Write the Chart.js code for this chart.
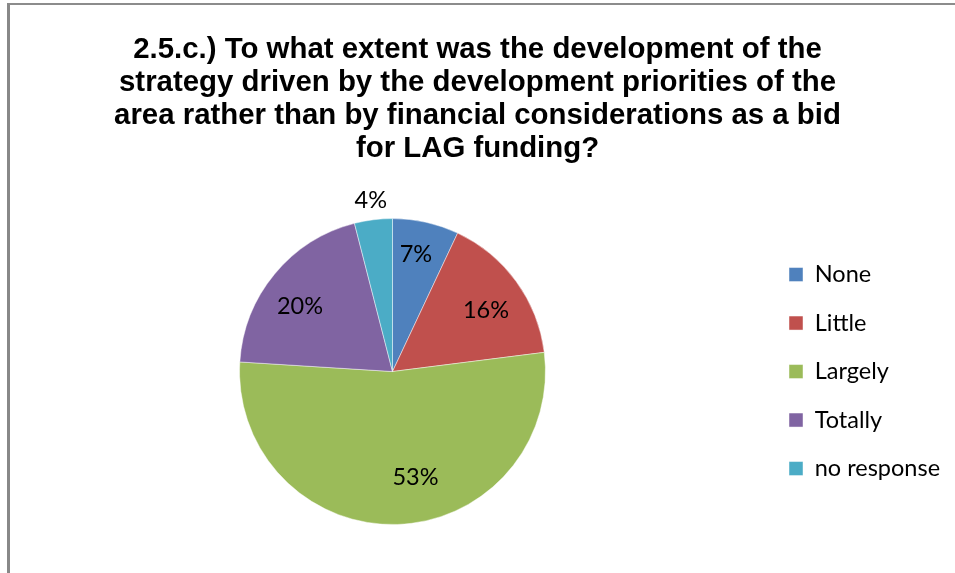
<!DOCTYPE html>
<html>
<head>
<meta charset="utf-8">
<script src="https://cdn.jsdelivr.net/npm/chart.js@4/dist/chart.umd.min.js"></script>
<style>
  html, body { margin: 0; padding: 0; background: #fff; }
  #wrap { position: relative; width: 955px; height: 573px; overflow: hidden; }
  #frame {
    position: absolute; left: 7px; top: 3px; width: 1000px; height: 700px;
    border-left: 3px solid #888; border-top: 2px solid #8c8c8c;
    box-sizing: border-box;
  }
  #c { position: absolute; left: 0; top: 0; }
</style>
</head>
<body>
<div id="wrap">
  <div id="frame"></div>
  <canvas id="c" width="955" height="573"></canvas>
</div>
<script>
// Survey answers (percent of respondents)
const categories = ['None', 'Little', 'Largely', 'Totally', 'no response'];
const shares = [7, 16, 53, 20, 4];
const titleLines = [
  '2.5.c.) To what extent was the development of the',
  'strategy driven by the development priorities of the',
  'area rather than by financial considerations as a bid',
  'for LAG funding?'
];

// Office-style palette, one colour per answer
const sliceColors = ['#4F81BD', '#C0504D', '#9BBB59', '#8064A2', '#4BACC6'];
// Label placement per slice: distance from centre (fraction of radius)
// and a small turn away from the slice bisector (degrees, clockwise)
const labelRadius = [0.783, 0.731, 0.706, 0.741, 1.13];
const labelTurn = [-1.3, 2.7, -10.5, -4.3, 0];

const LEGEND_WIDTH = 170;      // width reserved in the layout
const LEGEND_DRAW_WIDTH = 190; // room the labels get when drawn
const LABEL_FONT = '23.5px Lato, "Open Sans", sans-serif';

// Fixed-width legend column so the pie stays left of centre,
// widened again after layout so long labels are not cut off
const legendWidthPlugin = {
  id: 'legendWidth',
  beforeLayout(chart) {
    const lg = chart.legend;
    if (lg && !lg.__fixedWidth) {
      const fit = lg.fit;
      lg.fit = function () {
        fit.call(this);
        this.width = LEGEND_WIDTH;
      };
      lg.__fixedWidth = true;
    }
  },
  afterLayout(chart) {
    const lg = chart.legend;
    if (lg) {
      lg.width = LEGEND_DRAW_WIDTH;
      lg.right = lg.left + LEGEND_DRAW_WIDTH;
    }
  }
};

// Percentage labels placed around each slice's bisector
const sliceLabelPlugin = {
  id: 'sliceLabels',
  afterDatasetsDraw(chart) {
    const ctx = chart.ctx;
    const meta = chart.getDatasetMeta(0);
    const values = chart.data.datasets[0].data;
    ctx.save();
    ctx.font = LABEL_FONT;
    ctx.fillStyle = '#000';
    ctx.textAlign = 'center';
    ctx.textBaseline = 'middle';
    meta.data.forEach((arc, i) => {
      const p = arc.getProps(['x', 'y', 'startAngle', 'endAngle', 'outerRadius'], true);
      const mid = (p.startAngle + p.endAngle) / 2 + labelTurn[i] * Math.PI / 180;
      const r = p.outerRadius * labelRadius[i];
      ctx.fillText(values[i] + '%', p.x + Math.cos(mid) * r, p.y + Math.sin(mid) * r);
    });
    ctx.restore();
  }
};

new Chart(document.getElementById('c'), {
  type: 'pie',
  data: {
    labels: categories,
    datasets: [{
      data: shares,
      backgroundColor: sliceColors,
      borderColor: 'rgba(255,255,255,0.45)',
      borderWidth: 1
    }]
  },
  options: {
    responsive: false,
    animation: false,
    devicePixelRatio: 1,
    layout: { padding: { left: 21, right: 21, top: 0, bottom: 48 } },
    plugins: {
      title: {
        display: true,
        text: titleLines,
        color: '#000',
        font: { family: '"Liberation Sans", Arial, sans-serif', size: 29.4, weight: 'bold', lineHeight: 1.123 },
        padding: { top: 33, bottom: 53 }
      },
      legend: {
        display: true,
        position: 'right',
        align: 'center',
        fullSize: false,
        labels: {
          color: '#000',
          font: { family: 'Lato, "Open Sans", sans-serif', size: 23.5 },
          boxWidth: 14,
          boxHeight: 14,
          padding: 25
        }
      },
      tooltip: { enabled: false }
    }
  },
  plugins: [legendWidthPlugin, sliceLabelPlugin]
});
</script>
</body>
</html>
